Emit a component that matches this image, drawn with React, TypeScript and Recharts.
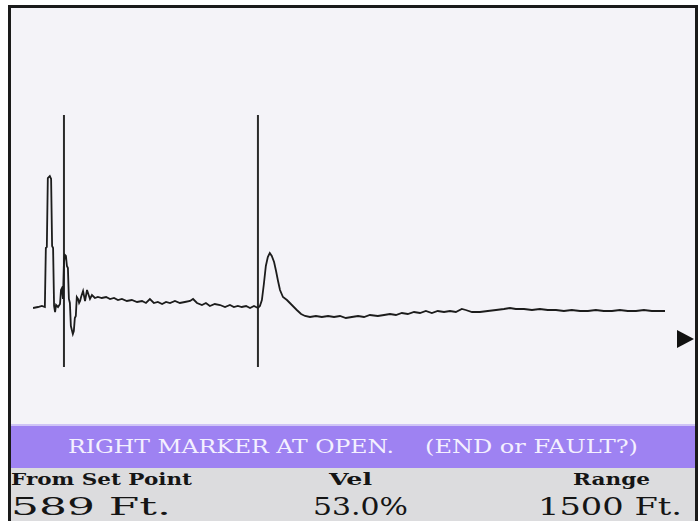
import React from "react";
import { LineChart, Line, XAxis, YAxis, ReferenceLine } from "recharts";

// Trace samples: distance in feet from the set point (left marker),
// amplitude in screen units above the flat baseline.
const DIST_FT = [
  -94, -79, -67, -58, -55, -52, -49, -43, -39, -36, -33, -30, -27, -24, -18, -12, -9, -6, -3,
  0, 3, 6, 9, 12, 15, 18, 21, 24, 27, 30, 33, 36, 39, 43, 46, 49, 52, 58, 64, 70, 76, 79, 85,
  94, 103, 115, 128, 140, 152, 164, 176, 191, 206, 222, 237, 249, 261, 273, 285, 298, 310, 322,
  337, 352, 367, 383, 392, 404, 419, 431, 443, 458, 474, 489, 504, 516, 528, 540, 553, 565, 577,
  589, 595, 601, 607, 613, 619, 625, 631, 638, 644, 650, 656, 665, 677, 686, 698, 707, 720, 732,
  747, 765, 783, 802, 820, 838, 856, 874, 893, 911, 929, 953, 972, 990, 1008, 1026, 1044, 1063,
  1081, 1099, 1117, 1135, 1154, 1172, 1190, 1208, 1220, 1239, 1263, 1287, 1312, 1336, 1354, 1372,
  1397, 1421, 1445, 1469, 1494, 1518, 1542, 1567, 1591, 1615, 1639, 1664, 1688, 1712, 1737, 1761,
  1785, 1809, 1825,
];
const AMPLITUDE = [
  -1, 0, 1, 0, 59, 60, 129, 131, 128, 61, 59, 1, -5, 2, 0, 3, 17, 19, 8,
  45, 52, 51, 41, 39, 8, 4, -19, -23, -27, -24, -11, -9, 10, 8, 4, 6, 10, 16, 6, 17, 11, 8, 12,
  9, 10, 9, 10, 8, 9, 7, 8, 6, 7, 5, 6, 4, 8, 4, 5, 3, 5, 4,
  6, 4, 5, 6, 8, 4, 2, 4, 1, 3, 2, 0, 2, 0, 1, 0, 1, -1, 1,
  -1, 1, 7, 23, 41, 50, 54, 51, 45, 36, 26, 17, 10, 7, 4, 0, -3, -7, -9,
  -10, -9, -10, -9, -10, -9, -11, -10, -9, -10, -8, -9, -8, -7, -8, -6, -7, -5,
  -6, -4, -6, -4, -5, -4, -5, -2, -3, -5, -5, -4, -3, -2, -1, -2,
  -2, -3, -2, -3, -3, -4, -3, -4, -4, -3, -4, -4, -3, -4, -4, -3,
  -4, -4, -4,
];

const LEFT_MARKER_FT = 0;
const RIGHT_MARKER_FT = 589;

const STATUS_TEXT = "RIGHT MARKER AT OPEN.";
const STATUS_QUESTION = "(END or FAULT?)";
const FIELD_LABELS = ["From Set Point", "Vel", "Range"];
const FIELD_VALUES = ["589 Ft.", "53.0%", "1500 Ft."];

const SERIF = "'DejaVu Serif', serif";

function Screen() {
  return (
    <svg width={700} height={521} style={{ position: "absolute", left: 0, top: 0 }}>
      <rect x={0} y={0} width={700} height={521} fill="#ffffff" />
      <rect x={10} y={7} width={686} height={514} fill="#f4f3f8" />
      <rect x={10} y={424} width={686} height={2} fill="#cfc4f6" />
      <rect x={10} y={426} width={686} height={42} fill="#9e82f2" />
      <rect x={10} y={468} width={686} height={53} fill="#dcdcde" />
      <rect x={8} y={5} width={3} height={516} fill="#1a1a1a" />
      <rect x={8} y={5} width={690} height={3} fill="#1a1a1a" />
      <rect x={695} y={5} width={3} height={516} fill="#1a1a1a" />
      <polygon points="677,330 677,348 694,339" fill="#111111" />

      <text x={68} y={453} fontFamily={SERIF} fontSize={18} fill="#f4f0ff"
        textLength={326} lengthAdjust="spacingAndGlyphs">{STATUS_TEXT}</text>
      <text x={425} y={453} fontFamily={SERIF} fontSize={18} fill="#f4f0ff"
        textLength={213} lengthAdjust="spacingAndGlyphs">{STATUS_QUESTION}</text>

      <text x={11} y={485} fontFamily={SERIF} fontSize={17} fontWeight="bold" fill="#151515"
        textLength={181} lengthAdjust="spacingAndGlyphs">{FIELD_LABELS[0]}</text>
      <text x={329} y={485} fontFamily={SERIF} fontSize={17} fontWeight="bold" fill="#151515"
        textLength={43} lengthAdjust="spacingAndGlyphs">{FIELD_LABELS[1]}</text>
      <text x={573} y={485} fontFamily={SERIF} fontSize={17} fontWeight="bold" fill="#151515"
        textLength={77} lengthAdjust="spacingAndGlyphs">{FIELD_LABELS[2]}</text>

      <text x={11} y={515} fontFamily={SERIF} fontSize={25} fill="#151515"
        textLength={160} lengthAdjust="spacingAndGlyphs">{FIELD_VALUES[0]}</text>
      <text x={313} y={515} fontFamily={SERIF} fontSize={25} fill="#151515"
        textLength={95} lengthAdjust="spacingAndGlyphs">{FIELD_VALUES[1]}</text>
      <text x={538} y={515} fontFamily={SERIF} fontSize={25} fill="#151515"
        textLength={144} lengthAdjust="spacingAndGlyphs">{FIELD_VALUES[2]}</text>
    </svg>
  );
}

export default function App() {
  const data = DIST_FT.map((ft, i) => ({ ft, amp: AMPLITUDE[i] }));

  return (
    <div style={{ position: "absolute", left: 0, top: 0, width: 700, height: 521, overflow: "hidden" }}>
      <Screen />
      <div style={{ position: "absolute", left: 0, top: 0 }}>
        <LineChart width={700} height={521} data={data} margin={{ top: 115, right: 35, bottom: 154, left: 33 }}>
          <XAxis dataKey="ft" type="number" domain={[-94, 1825]} allowDataOverflow hide />
          <YAxis type="number" domain={[-60, 192]} allowDataOverflow hide />
          <ReferenceLine x={LEFT_MARKER_FT} stroke="#2a2a2a" strokeWidth={2} />
          <ReferenceLine x={RIGHT_MARKER_FT} stroke="#2a2a2a" strokeWidth={2} />
          <Line
            type="linear"
            dataKey="amp"
            stroke="#1c1c1c"
            strokeWidth={1.8}
            dot={false}
            isAnimationActive={false}
          />
        </LineChart>
      </div>
    </div>
  );
}
